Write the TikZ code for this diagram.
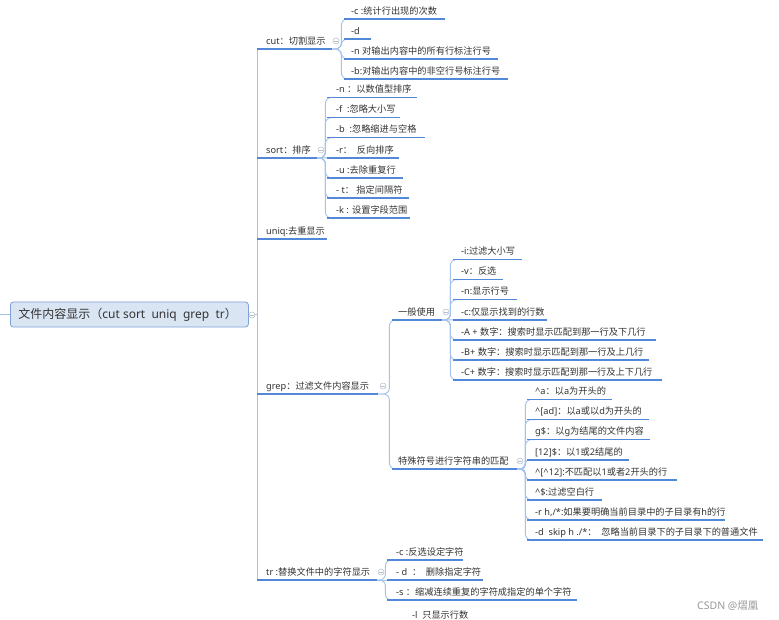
\documentclass[tikz,border=0pt]{standalone}
\usepackage{fontspec}
\setmainfont{Noto Sans}
\newfontfamily\cjkfont{Noto Sans CJK SC}
\XeTeXinterchartokenstate=1
\newXeTeXintercharclass\cjkcls
\newcount\cjkcc
\cjkcc="3000 \loop\ifnum\cjkcc<"3040 \XeTeXcharclass\cjkcc=\cjkcls \advance\cjkcc 1 \repeat
\cjkcc="4E00 \loop\ifnum\cjkcc<"A000 \XeTeXcharclass\cjkcc=\cjkcls \advance\cjkcc 1 \repeat
\cjkcc="FF00 \loop\ifnum\cjkcc<"FFF0 \XeTeXcharclass\cjkcc=\cjkcls \advance\cjkcc 1 \repeat
\XeTeXinterchartoks 0 \cjkcls = {\cjkfont}
\XeTeXinterchartoks 4095 \cjkcls = {\cjkfont}
\XeTeXinterchartoks \cjkcls 0 = {\rmfamily}
\XeTeXinterchartoks \cjkcls 4095 = {\rmfamily}
\definecolor{ulc}{HTML}{5288D8}
\definecolor{connc}{HTML}{A3C2EE}
\definecolor{rootf}{HTML}{DAE5F3}
\definecolor{rootb}{HTML}{7FA3D8}
\definecolor{txtc}{HTML}{333333}
\definecolor{colc}{HTML}{B4BDCC}
\definecolor{wmc}{HTML}{9A9A9A}
\newcommand\ulbox[3]{\makebox[#1pt][l]{\hspace*{#2pt}#3}}
\tikzset{
  leaf/.style={anchor=south west, inner xsep=0pt, inner ysep=2.5pt, text height=7pt, text depth=2pt, font=\fontsize{9.2}{11}\selectfont, text=txtc},
  uline/.style={draw=ulc, line width=1.6pt},
  lonebar/.style={draw=ulc, line width=2pt},
  conn/.style={draw=connc, line width=0.9pt, rounded corners=#1},
  conn/.default=6pt,
  spinec/.style={draw=connc, line width=0.9pt},
  collapse/.style={circle, draw=colc, fill=white, line width=0.5pt, minimum size=6pt, inner sep=0pt,
    path picture={\draw[colc, line width=0.5pt] ([xshift=1.3pt]path picture bounding box.west) -- ([xshift=-1.3pt]path picture bounding box.east);}},
  rootbox/.style={anchor=west, draw=rootb, fill=rootf, rounded corners=3pt, inner xsep=8pt, inner ysep=0pt, minimum height=25pt, font=\fontsize{12}{14}\selectfont, text=txtc, line width=0.8pt}
}
\begin{document}
\begin{tikzpicture}[x=1pt,y=-1pt]
\useasboundingbox[fill=white] (0,0) rectangle (779,620);

% root
\node[rootbox] (root) at (10,314.5) {\makebox[222pt][l]{文件内容显示（cut sort~ uniq~ grep~ tr）}};
\coordinate (lstub) at (0,314.5);
\coordinate (hub) at (257,314.5);

% level 1
\node[leaf] (cut)  at (257,49)  {\ulbox{75}{9}{cut：切割显示}};
\node[leaf] (sort) at (257,158) {\ulbox{60}{9}{sort：排序}};
\node[leaf] (uniq) at (257,239) {\ulbox{70}{9}{uniq:去重显示}};
\node[leaf] (grep) at (257,394) {\ulbox{121}{9}{grep：过滤文件内容显示}};
\node[leaf] (tr)   at (257,580) {\ulbox{120}{9}{tr :替换文件中的字符显示}};

% cut children
\node[leaf] (c1) at (344,19) {\ulbox{101}{7}{-c :统计行出现的次数}};
\node[leaf] (c2) at (344,39) {\ulbox{27}{7}{-d}};
\node[leaf] (c3) at (344,59) {\ulbox{154}{7}{-n 对输出内容中的所有行标注行号}};
\node[leaf] (c4) at (344,79) {\ulbox{164}{7}{-b:对输出内容中的非空行号标注行号}};

% sort children
\node[leaf] (s1) at (327,97.5)  {\ulbox{90}{9}{-n ：以数值型排序}};
\node[leaf] (s2) at (327,117.6) {\ulbox{73}{9}{-f~ :忽略大小写}};
\node[leaf] (s3) at (327,137.7) {\ulbox{98}{9}{-b~ :忽略缩进与空格}};
\node[leaf] (s4) at (327,157.8) {\ulbox{72}{9}{-r：~ 反向排序}};
\node[leaf] (s5) at (327,177.9) {\ulbox{76}{9}{-u :去除重复行}};
\node[leaf] (s6) at (327,198)   {\ulbox{82}{9}{- t： 指定间隔符}};
\node[leaf] (s7) at (327,218)   {\ulbox{83}{9}{-k : 设置字段范围}};

% grep children
\node[leaf] (gen) at (392,320) {\ulbox{50}{6}{一般使用}};
\node[leaf] (spe) at (392,469) {\ulbox{125}{6}{特殊符号进行字符串的匹配}};

% general children
\node[leaf] (g1) at (453,259.5) {\ulbox{69}{8}{-i:过滤大小写}};
\node[leaf] (g2) at (453,279.6) {\ulbox{50}{8}{-v：反选}};
\node[leaf] (g3) at (453,299.7) {\ulbox{64}{8}{-n:显示行号}};
\node[leaf] (g4) at (453,319.8) {\ulbox{94}{8}{-c:仅显示找到的行数}};
\node[leaf] (g5) at (453,339.9) {\ulbox{203}{8}{-A + 数字：搜索时显示匹配到那一行及下几行}};
\node[leaf] (g6) at (453,360)   {\ulbox{196}{8}{-B+ 数字：搜索时显示匹配到那一行及上几行}};
\node[leaf] (g7) at (453,380)   {\ulbox{209}{8}{-C+ 数字：搜索时显示匹配到那一行及上下几行}};

% special children
\node[leaf] (t1) at (527,399.5) {\ulbox{85}{8}{\textasciicircum a：以a为开头的}};
\node[leaf] (t2) at (527,419.6) {\ulbox{122}{8}{\textasciicircum[ad]：以a或以d为开头的}};
\node[leaf] (t3) at (527,439.6) {\ulbox{123}{8}{g\$：以g为结尾的文件内容}};
\node[leaf] (t4) at (527,459.7) {\ulbox{102}{8}{[12]\$：以1或2结尾的}};
\node[leaf] (t5) at (527,479.8) {\ulbox{150}{8}{\textasciicircum[\textasciicircum 12]:不匹配以1或者2开头的行}};
\node[leaf] (t6) at (527,499.9) {\ulbox{75}{8}{\textasciicircum\$:过滤空白行}};
\node[leaf] (t7) at (527,519.9) {\ulbox{198}{8}{-r h,/*:如果要明确当前目录中的子目录有h的行}};
\node[leaf] (t8) at (527,540)   {\ulbox{236}{8}{-d~ skip h ./*：~ 忽略当前目录下的子目录下的普通文件}};

% tr children
\node[leaf] (r1) at (387,560) {\ulbox{76}{9}{-c :反选设定字符}};
\node[leaf] (r2) at (387,580) {\ulbox{96}{9}{- d~ ：~ 删除指定字符}};
\node[leaf] (r3) at (387,600) {\ulbox{190}{9}{-s ：缩减连续重复的字符成指定的单个字符}};

% floating text at the bottom
\node[leaf, anchor=base west] (lonly) at (412,618) {-l~ 只显示行数};

% watermark
\node[anchor=base west, inner sep=0pt, font=\fontsize{10.5}{12}\selectfont, text=wmc] (wm) at (697,609) {CSDN @熠凰};

% connectors
\draw[spinec] (lstub) -- (root.west);
\draw[spinec] (root.east) -- (hub);
\foreach \n in {cut,sort,uniq,grep,tr} \draw[spinec] (hub) |- (\n.south west);
\foreach \n in {c1,c2,c3,c4} \draw[conn] (cut.south east) -- ++(9pt,0) |- ([xshift=8pt]\n.south west);
\foreach \n in {s1,s2,s3,s5,s6,s7} \draw[conn] (sort.south east) -- ++(8pt,0) |- ([xshift=8pt]\n.south west);
\draw[spinec] (sort.south east) -- (s4.south west);
\foreach \n in {gen,spe} \draw[conn] (grep.south east) -- ++(11pt,0) |- ([xshift=8pt]\n.south west);
\foreach \n in {g1,g2,g3,g5,g6,g7} \draw[conn] (gen.south east) -- ++(8pt,0) |- ([xshift=8pt]\n.south west);
\draw[spinec] (gen.south east) -- (g4.south west);
\foreach \n in {t1,t2,t3,t6,t7,t8} \draw[conn] (spe.south east) -- ++(8pt,0) |- ([xshift=8pt]\n.south west);
\foreach \n in {t4,t5} \draw[conn=4pt] (spe.south east) -- ++(8pt,0) |- ([xshift=8pt]\n.south west);
\foreach \n in {r1,r3} \draw[conn] (tr.south east) -- ++(8pt,0) |- ([xshift=8pt]\n.south west);
\draw[spinec] (tr.south east) -- (r2.south west);

% underlines
\foreach \n in {cut,sort,uniq,grep,tr} \draw[lonebar] (\n.south west) -- (\n.south east);
\foreach \n in {c1,c2,c3,c4,s1,s2,s3,s4,s5,s6,s7,gen,spe,g1,g2,g3,g4,g5,g6,g7,t1,t2,t3,t4,t5,t6,t7,t8,r1,r2,r3}
  \draw[uline] (\n.south west) -- (\n.south east);

% collapse markers
\node[collapse] (k0) at (252,315) {};
\node[collapse] (k1) at (336,41) {};
\node[collapse] (k2) at (321,150) {};
\node[collapse] (k3) at (383,386) {};
\node[collapse] (k4) at (446,312) {};
\node[collapse] (k5) at (520,461) {};
\node[collapse] (k6) at (381,572) {};
\end{tikzpicture}
\end{document}
